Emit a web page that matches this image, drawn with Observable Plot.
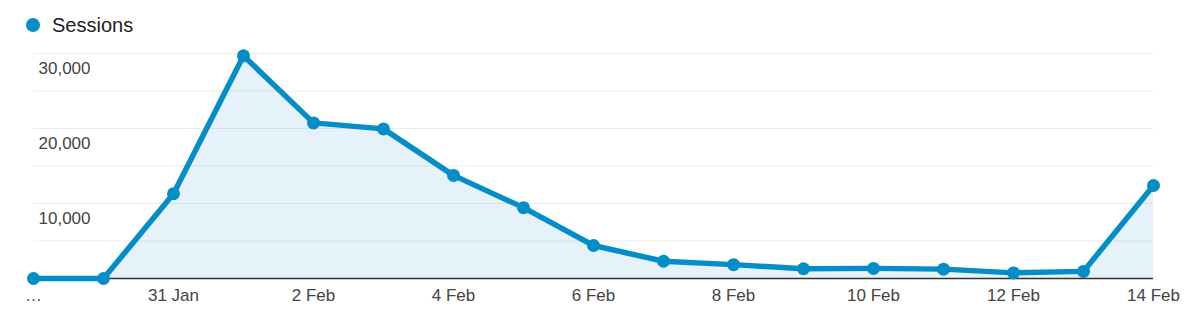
<!DOCTYPE html>
<html>
<head>
<meta charset="utf-8">
<script src="https://cdn.jsdelivr.net/npm/d3@7"></script>
<script src="https://cdn.jsdelivr.net/npm/@observablehq/plot@0.6"></script>
<style>
  html, body { margin: 0; padding: 0; background: #fff; }
  body { width: 1200px; height: 309px; overflow: hidden; font-family: "Liberation Sans", Arial, sans-serif; }
  .legend { position: relative; height: 40px; }
  .legend .dot { position: absolute; left: 26px; top: 18px; width: 14px; height: 14px; border-radius: 50%; background: #058dc7; }
  .legend .label { position: absolute; left: 52px; top: 13px; font-size: 20px; line-height: 24px; color: #222; }
  svg { display: block; }
</style>
</head>
<body>
<div class="legend"><span class="dot"></span><span class="label">Sessions</span></div>
<div id="chart"></div>
<script>
const days = ["29 Jan","30 Jan","31 Jan","1 Feb","2 Feb","3 Feb","4 Feb","5 Feb","6 Feb","7 Feb","8 Feb","9 Feb","10 Feb","11 Feb","12 Feb","13 Feb","14 Feb"];
const sessions = [0, 0, 11300, 29700, 20750, 19950, 13750, 9450, 4400, 2300, 1850, 1300, 1350, 1250, 750, 950, 12400];
const tickDays = ["29 Jan","31 Jan","2 Feb","4 Feb","6 Feb","8 Feb","10 Feb","12 Feb","14 Feb"];
const tickLabels = ["…","31 Jan","2 Feb","4 Feb","6 Feb","8 Feb","10 Feb","12 Feb","14 Feb"];
const yTicks = [10000, 20000, 30000];
const gridTicks = [5000, 10000, 15000, 20000, 25000, 30000];

const data = days.map((d, i) => ({day: d, v: sessions[i]}));

const chart = Plot.plot({
  width: 1200,
  height: 269,
  marginTop: 13,
  marginBottom: 31,
  marginLeft: 33,
  marginRight: 47,
  style: {fontFamily: "'Liberation Sans', Arial, sans-serif", fontSize: "17px", color: "#444", background: "white"},
  x: {type: "point", domain: days, padding: 0, label: null},
  y: {domain: [0, 30000], label: null},
  marks: [
    Plot.areaY(data, {x: "day", y: "v", fill: "#e6f2f9"}),
    Plot.gridY(gridTicks, {stroke: "#000", strokeOpacity: 0.08, strokeWidth: 1}),
    Plot.ruleY([0], {stroke: "#333", strokeWidth: 1.5}),
    Plot.line(data, {x: "day", y: "v", stroke: "#058dc7", strokeWidth: 5.5, strokeLinejoin: "round", strokeLinecap: "round"}),
    Plot.dot(data, {x: "day", y: "v", r: 6.5, fill: "#058dc7"}),
    Plot.axisY(yTicks, {anchor: "left", label: null, tickSize: 0, tickPadding: 0, textAnchor: "start", dx: 5, dy: 15, tickFormat: d3.format(","), fill: "#444"}),
    Plot.axisX(tickDays, {anchor: "bottom", label: null, tickSize: 0, tickPadding: 10, tickFormat: d => tickLabels[tickDays.indexOf(d)], fill: "#444"})
  ]
});
document.getElementById("chart").appendChild(chart);
</script>
</body>
</html>
